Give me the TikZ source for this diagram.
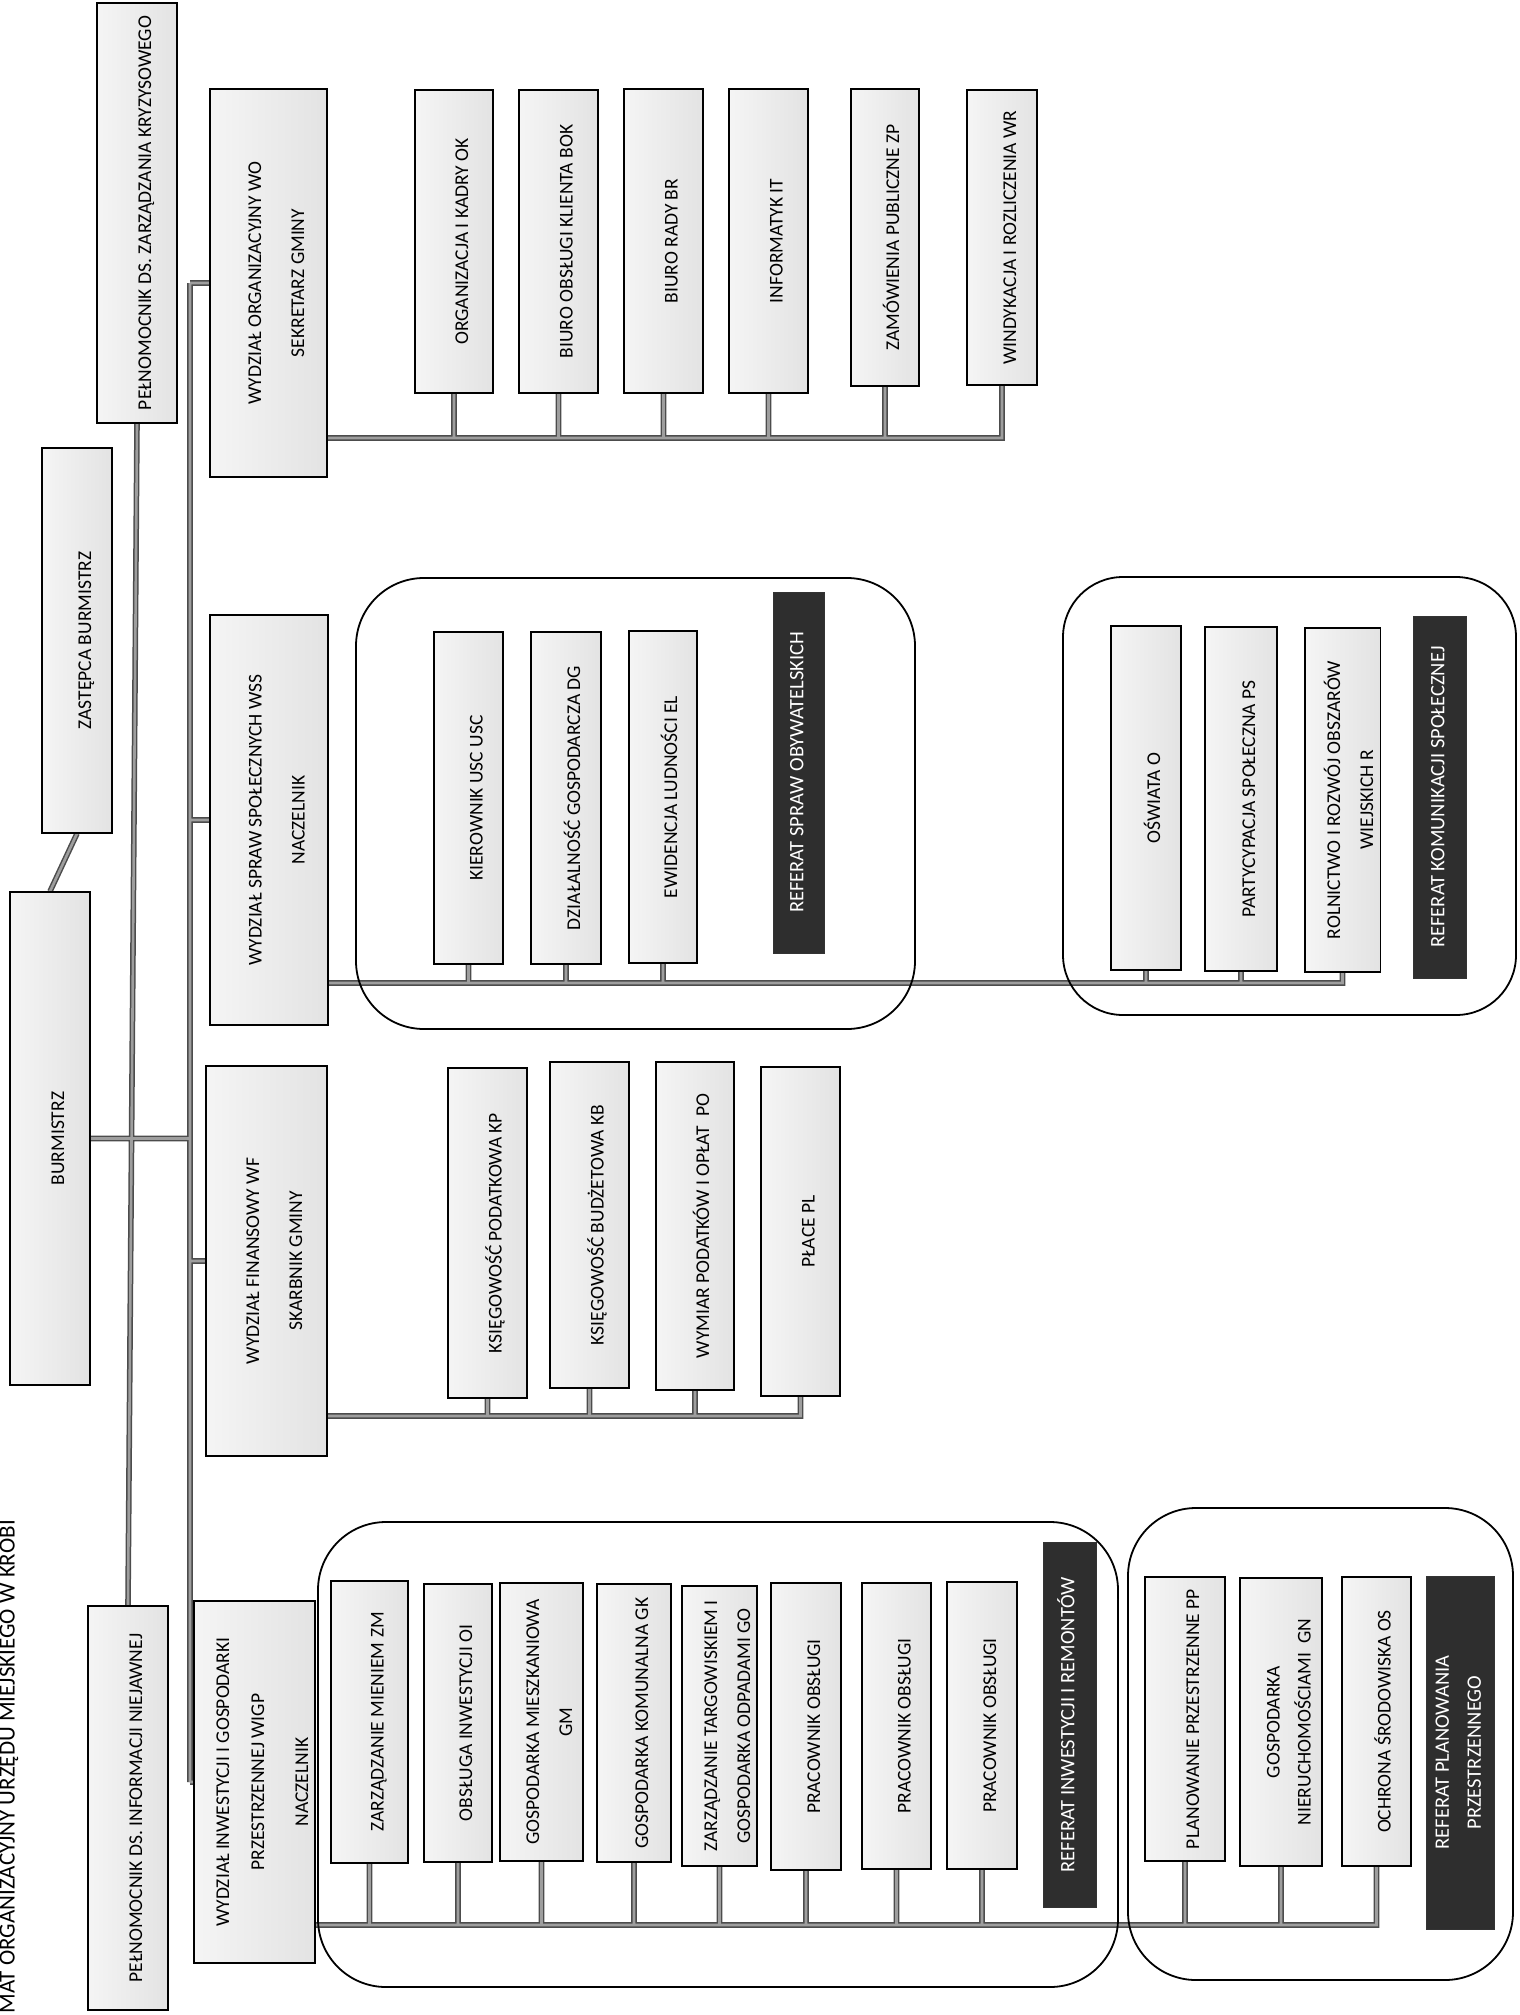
\documentclass[tikz,border=0pt]{standalone}
\usepackage{fontspec}
\setmainfont{Carlito}
\pgfdeclarelayer{bg}
\pgfsetlayers{bg,main}
\newcommand\rt[1]{\hspace*{19pt}\rotatebox{90}{\begin{tabular}{@{}c@{}}#1\end{tabular}}}
\newcommand\rtb[1]{\rotatebox{90}{\begin{tabular}{@{}c@{}}#1\end{tabular}}}
\begin{document}
\begin{tikzpicture}[x=1pt,y=-1pt,
  box/.style={draw=black, line width=1.2pt, inner sep=0pt, left color=black!4, right color=black!11, font=\fontsize{19.5}{23}\selectfont},
  refbox/.style={draw=black!80, line width=1pt, inner sep=0pt, fill=black!82, text=white, font=\fontsize{20.5}{24}\selectfont},
  grp/.style={draw=black, line width=1.8pt, rounded corners=68pt, inner sep=0pt},
  conn/.style={draw=black!38, line width=2.6pt, preaction={draw=black!70, line width=5.6pt}},
]
\useasboundingbox (0,0) rectangle (1519,2015);

% title
\node[rotate=90, anchor=east, inner sep=0pt, font=\fontsize{23}{27}\selectfont] (title) at (9,1520) {MAT ORGANIZACYJNY URZĘDU MIEJSKIEGO W KROBI};

% top level
\node[box, minimum width=80pt, minimum height=420pt] (pkryz) at (137,213) {\rt{PEŁNOMOCNIK DS. ZARZĄDZANIA KRYZYSOWEGO}};
\node[box, minimum width=70pt, minimum height=385pt] (zast) at (77,640.5) {\rt{ZASTĘPCA BURMISTRZ}};
\node[box, minimum width=80pt, minimum height=493pt] (burm) at (50,1138.5) {\rt{BURMISTRZ}};
\node[box, minimum width=80pt, minimum height=404pt] (pinf) at (128,1808) {\rt{PEŁNOMOCNIK DS. INFORMACJI NIEJAWNEJ}};

% departments
\node[box, minimum width=117pt, minimum height=388pt] (wo) at (268.5,283) {\rt{WYDZIAŁ ORGANIZACYJNY WO\\[20pt]SEKRETARZ GMINY}};
\node[box, minimum width=118pt, minimum height=410pt] (wss) at (269,820) {\rt{WYDZIAŁ SPRAW SPOŁECZNYCH WSS\\[20pt]NACZELNIK}};
\node[box, minimum width=121pt, minimum height=390pt] (wf) at (266.5,1261) {\rt{WYDZIAŁ FINANSOWY WF\\[20pt]SKARBNIK GMINY}};
\node[box, minimum width=113pt, minimum height=362pt] (wigp) at (254.5,1782) {\rt{WYDZIAŁ INWESTYCJI I GOSPODARKI\\[12pt]PRZESTRZENNEJ WIGP\\[21pt]NACZELNIK}};

% WO children
\node[box, minimum width=78pt, minimum height=303pt] (ok) at (454,241.5) {\rt{ORGANIZACJA I KADRY OK}};
\node[box, minimum width=79pt, minimum height=303pt] (bok) at (558.5,241.5) {\rt{BIURO OBSŁUGI KLIENTA BOK}};
\node[box, minimum width=79pt, minimum height=304pt] (br) at (663.5,241) {\rt{BIURO RADY BR}};
\node[box, minimum width=79pt, minimum height=304pt] (it) at (768.5,241) {\rt{INFORMATYK IT}};
\node[box, minimum width=68pt, minimum height=297pt] (zp) at (885,237.5) {\rt{ZAMÓWIENIA PUBLICZNE ZP}};
\node[box, minimum width=70pt, minimum height=295pt] (wr) at (1002,237.5) {\rt{WINDYKACJA I ROZLICZENIA WR}};

% WSS children
\node[box, minimum width=69pt, minimum height=332pt] (usc) at (468.5,798) {\rt{KIEROWNIK USC USC}};
\node[box, minimum width=70pt, minimum height=332pt] (dg) at (566,798) {\rt{DZIAŁALNOŚĆ GOSPODARCZA DG}};
\node[box, minimum width=68pt, minimum height=332pt] (el) at (663,797) {\rt{EWIDENCJA LUDNOŚCI EL}};
\node[refbox, minimum width=51pt, minimum height=361pt] (rso) at (798.5,772.5) {\rtb{REFERAT SPRAW OBYWATELSKICH}};
\node[box, minimum width=70pt, minimum height=344pt] (osw) at (1146,798) {\rt{OŚWIATA O}};
\node[box, minimum width=72pt, minimum height=344pt] (ps) at (1241,799) {\rt{PARTYCYPACJA SPOŁECZNA PS}};
\node[box, minimum width=71pt, minimum height=344pt] (rol) at (1342.5,800) {\rt{ROLNICTWO I ROZWÓJ OBSZARÓW\\[10pt]WIEJSKICH R}};
\node[refbox, minimum width=53pt, minimum height=362pt] (rks) at (1439.5,797) {\rtb{REFERAT KOMUNIKACJI SPOŁECZNEJ}};

% WF children
\node[box, minimum width=79pt, minimum height=330pt] (kp) at (487.5,1233) {\rt{KSIĘGOWOŚĆ PODATKOWA KP}};
\node[box, minimum width=79pt, minimum height=326pt] (kb) at (589.5,1225) {\rt{KSIĘGOWOŚĆ BUDŻETOWA KB}};
\node[box, minimum width=78pt, minimum height=328pt] (po) at (695,1226) {\rt{WYMIAR PODATKÓW I OPŁAT\ \ PO}};
\node[box, minimum width=79pt, minimum height=329pt] (pl) at (800.5,1231.5) {\rt{PŁACE PL}};

% WIGP children
\node[box, minimum width=77pt, minimum height=282pt] (zm) at (369.5,1722) {\rt{ZARZĄDZANIE MIENIEM ZM}};
\node[box, minimum width=68pt, minimum height=278pt] (oi) at (458,1723) {\rt{OBSŁUGA INWESTYCJI OI}};
\node[box, minimum width=83pt, minimum height=278pt] (gm) at (541.5,1722) {\rt{GOSPODARKA MIESZKANIOWA\\[10pt]GM}};
\node[box, minimum width=74pt, minimum height=278pt] (gk) at (634,1723) {\rt{GOSPODARKA KOMUNALNA GK}};
\node[box, minimum width=75pt, minimum height=280pt] (go) at (719.5,1726) {\rt{ZARZĄDZANIE TARGOWISKIEM I\\[10pt]GOSPODARKA ODPADAMI GO}};
\node[box, minimum width=70pt, minimum height=287pt] (poA) at (806,1726.5) {\rt{PRACOWNIK OBSŁUGI}};
\node[box, minimum width=69pt, minimum height=286pt] (poB) at (896.5,1726) {\rt{PRACOWNIK OBSŁUGI}};
\node[box, minimum width=70pt, minimum height=287pt] (poC) at (982,1725.5) {\rt{PRACOWNIK OBSŁUGI}};
\node[refbox, minimum width=53pt, minimum height=365pt] (rir) at (1069.5,1724.5) {\rtb{REFERAT INWESTYCJI I REMONTÓW}};
\node[box, minimum width=80pt, minimum height=284pt] (pp) at (1185,1719) {\rt{PLANOWANIE PRZESTRZENNE PP}};
\node[box, minimum width=82pt, minimum height=288pt] (gn) at (1281,1722) {\rt{GOSPODARKA\\[8pt]NIERUCHOMOŚCIAMI\ \ GN}};
\node[box, minimum width=69pt, minimum height=289pt] (os) at (1376.5,1721.5) {\rt{OCHRONA ŚRODOWISKA OS}};
\node[refbox, minimum width=68pt, minimum height=353pt] (rpp) at (1460,1752.5) {\rtb{REFERAT PLANOWANIA\\[8pt]PRZESTRZENNEGO}};

% groups
\node[grp, minimum width=559pt, minimum height=451pt] (gso) at (635.5,803.5) {};
\node[grp, rounded corners=60pt, minimum width=453pt, minimum height=438pt] (gks) at (1289.5,796) {};
\node[grp, minimum width=800pt, minimum height=465pt] (gir) at (718,1754.5) {};
\node[grp, minimum width=385pt, minimum height=472pt] (gpp) at (1320.5,1744) {};

% junction coordinates
\coordinate (tTop) at (190,283);
\coordinate (tBot) at (190,1782);
\coordinate (jWO) at (327,438);
\coordinate (jWSS) at (328,983);
\coordinate (jWF) at (327,1416);
\coordinate (jWI) at (311,1925);

\begin{pgfonlayer}{bg}
\draw[conn]
  (pkryz.south) -- (pinf.north)
  (zast.south) -- (burm.north)
  (burm.east) -- (burm.east -| tTop)
  (tTop) -- (tBot)
  (tTop) -- (wo.west)
  (wss.west -| tTop) -- (wss.west)
  (wf.west -| tTop) -- (wf.west)
  (tBot) -- (wigp.west)
  (jWO) -| (wr.south)
  (ok.south) -- (ok.south |- jWO)
  (bok.south) -- (bok.south |- jWO)
  (br.south) -- (br.south |- jWO)
  (it.south) -- (it.south |- jWO)
  (zp.south) -- (zp.south |- jWO)
  (jWSS) -| (rol.south)
  (usc.south) -- (usc.south |- jWSS)
  (dg.south) -- (dg.south |- jWSS)
  (el.south) -- (el.south |- jWSS)
  (osw.south) -- (osw.south |- jWSS)
  (ps.south) -- (ps.south |- jWSS)
  (jWF) -| (pl.south)
  (kp.south) -- (kp.south |- jWF)
  (kb.south) -- (kb.south |- jWF)
  (po.south) -- (po.south |- jWF)
  (jWI) -| (os.south)
  (zm.south) -- (zm.south |- jWI)
  (oi.south) -- (oi.south |- jWI)
  (gm.south) -- (gm.south |- jWI)
  (gk.south) -- (gk.south |- jWI)
  (go.south) -- (go.south |- jWI)
  (poA.south) -- (poA.south |- jWI)
  (poB.south) -- (poB.south |- jWI)
  (poC.south) -- (poC.south |- jWI)
  (pp.south) -- (pp.south |- jWI)
  (gn.south) -- (gn.south |- jWI);
\end{pgfonlayer}
\end{tikzpicture}
\end{document}
